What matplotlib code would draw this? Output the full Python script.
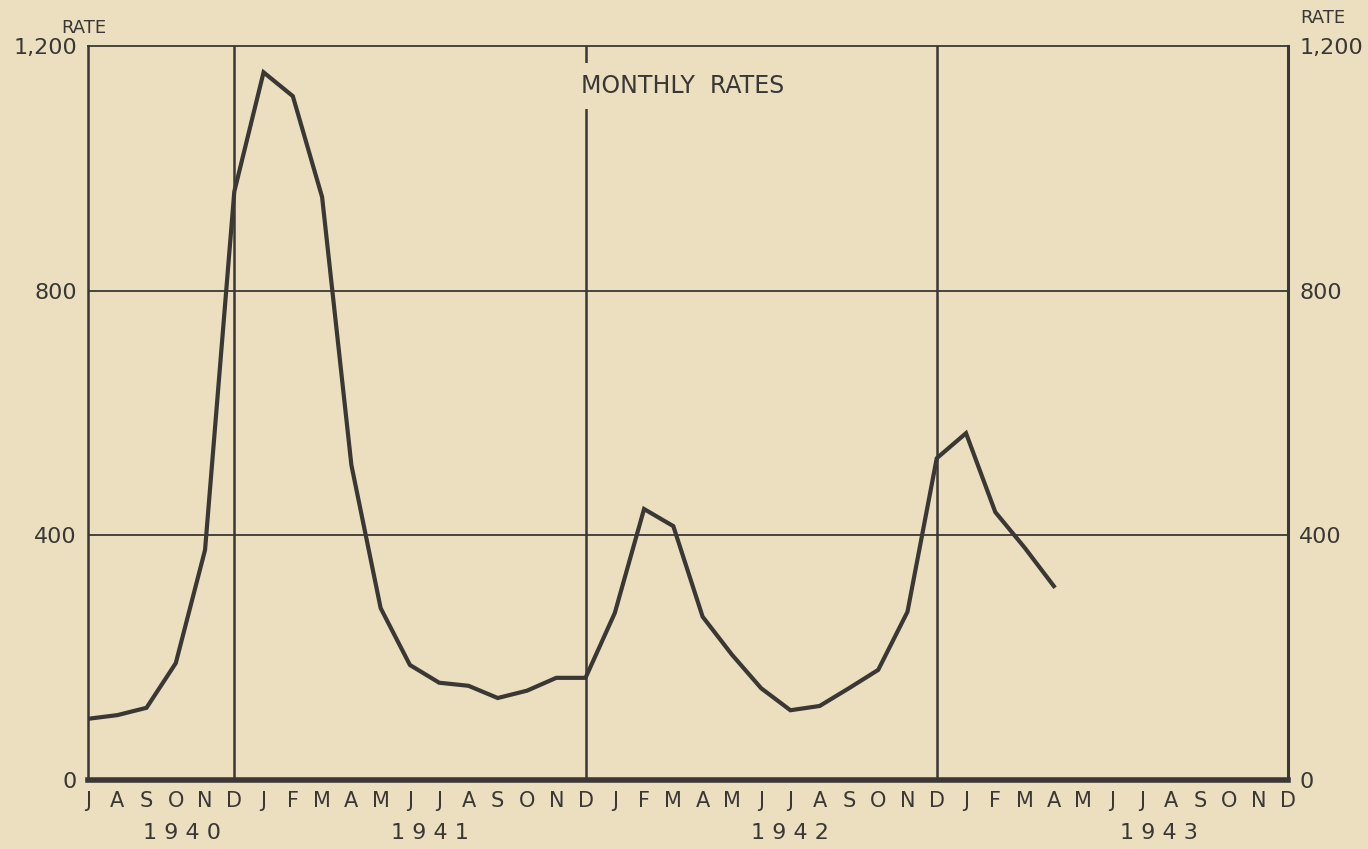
import numpy as np
import matplotlib
matplotlib.use("Agg")
import matplotlib.pyplot as plt

# month letters, Jul 1940 .. Dec 1943
months = list("JASOND") + list("JFMAMJJASOND") * 3
# monthly rates, Jul 1940 .. Apr 1943
rates = [100, 106, 118, 191, 376, 962,
         1157, 1118, 953, 515, 281, 188, 159, 154, 134, 146, 167, 167,
         273, 443, 415, 267, 205, 150, 114, 121, 150, 180, 275, 526,
         567, 438, 380, 317]
years = ["1940", "1941", "1942", "1943"]
year_pos = [3.2, 11.7, 24.0, 36.6]
yticks = [0, 400, 800, 1200]
ytick_labels = ["0", "400", "800", "1,200"]
dec_lines = [5, 17, 29]

bg = "#ebdfc0"
ink = "#3a3734"

fig = plt.figure(figsize=(13.68, 8.49), dpi=100, facecolor=bg)
ax = fig.add_axes([0.0643, 0.0813, 0.8772, 0.8645])
ax.set_facecolor(bg)

x = np.arange(len(rates))
ax.plot(x, rates, color=ink, lw=3.0, solid_joinstyle="miter", zorder=4)

ax.set_xlim(0, len(months) - 1)
ax.set_ylim(0, 1200)

# grid
for v in [400, 800]:
    ax.axhline(v, color=ink, lw=1.3, zorder=2)
for d in dec_lines:
    ax.axvline(d, color=ink, lw=1.8, zorder=2)

for s in ["left", "right", "top"]:
    ax.spines[s].set_color(ink)
ax.spines["left"].set_linewidth(1.8)
ax.spines["right"].set_linewidth(2.2)
ax.spines["top"].set_linewidth(1.3)
ax.spines["bottom"].set_color(ink)
ax.spines["bottom"].set_linewidth(4)

ax.set_xticks(np.arange(len(months)))
ax.set_xticklabels(months, fontsize=15, color=ink)
ax.tick_params(axis="x", length=0, pad=8)

ax.set_yticks(yticks)
ax.set_yticklabels(ytick_labels, fontsize=16, color=ink)
ax.tick_params(axis="y", length=0, pad=8, labelright=True)

# spaced-out year labels like the original lettering
for yr, p in zip(years, year_pos):
    ax.text(p, -0.072, " ".join(yr), transform=ax.get_xaxis_transform(),
            ha="center", va="center", fontsize=16, color=ink)

ax.text(-0.022, 1.012, "RATE", transform=ax.transAxes, ha="left",
        va="bottom", fontsize=13, color=ink)
ax.text(1.01, 1.026, "RATE", transform=ax.transAxes, ha="left",
        va="bottom", fontsize=13, color=ink)

ax.text(20.33, 1135, "MONTHLY  RATES", ha="center", va="center",
        fontsize=17, color=ink, zorder=3,
        bbox=dict(facecolor=bg, edgecolor="none", pad=8))

fig.savefig("out.png", dpi=100, facecolor=bg)
